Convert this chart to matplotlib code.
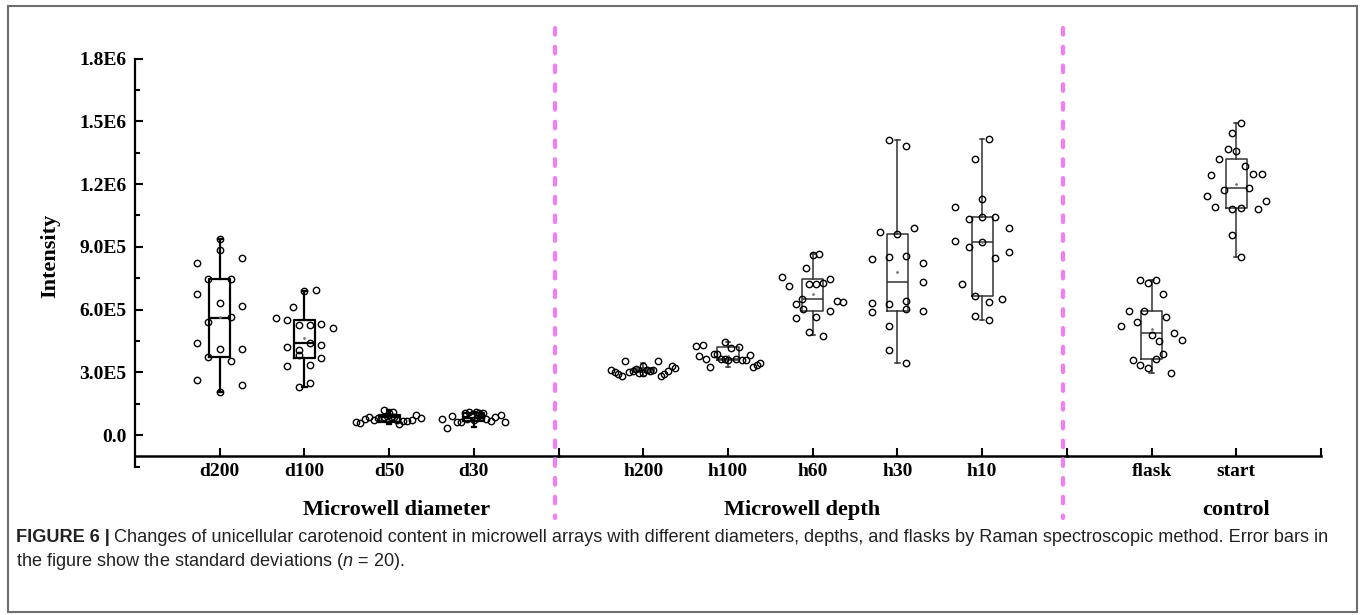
import matplotlib
matplotlib.use("Agg")
import matplotlib.pyplot as plt
from matplotlib.lines import Line2D
from matplotlib.patches import Rectangle
from matplotlib.transforms import blended_transform_factory
import numpy as np

SERIF = "Liberation Serif"
SANS = "Liberation Sans"
MAGENTA = "#F67CF6"
FRAME = "#6E6E6E"
CAPTION_COL = "#222222"

plt.rcParams["font.family"] = [SERIF, "DejaVu Serif"]
plt.rcParams["font.weight"] = "bold"
plt.rcParams["mathtext.fontset"] = "custom"
plt.rcParams["mathtext.it"] = SANS + ":style=italic:weight=normal"
plt.rcParams["mathtext.rm"] = SANS + ":weight=normal"

# ── data (intensity in thousands) ──
y_ticks = [0, 3e5, 6e5, 9e5, 1.2e6, 1.5e6, 1.8e6]
y_tick_labels = ["0.0", "3.0E5", "6.0E5", "9.0E5", "1.2E6", "1.5E6", "1.8E6"]

diam_labels = ["d200", "d100", "d50", "d30"]
depth_labels = ["h200", "h100", "h60", "h30", "h10"]
ctrl_labels = ["flask", "start"]

diam_q1 = [374, 368, 65, 67]
diam_med = [562, 441, 86, 81]
diam_q3 = [748, 549, 97, 105]
diam_lo = [208, 229, 54, 38]
diam_hi = [938, 689, 121, 113]
diam_mean = [566, 463, 84, 82]

depth_q1 = [301, 360, 594, 594, 667]
depth_med = [311, 366, 652, 731, 923]
depth_q3 = [323, 420, 745, 961, 1041]
depth_lo = [285, 325, 479, 344, 549]
depth_hi = [345, 446, 865, 1411, 1417]
depth_mean = [314, 378, 675, 779, 923]

ctrl_q1 = [363, 1086]
ctrl_med = [490, 1181]
ctrl_q3 = [592, 1320]
ctrl_lo = [299, 853]
ctrl_hi = [742, 1490]
ctrl_mean = [506, 1200]

# individual cells: horizontal spread (category units) and intensity
d200_dx = [0, 0, -0.27, 0.266, -0.135, 0.131, -0.27, 0, 0.266, -0.135,
           0.131, -0.27, 0, 0.266, -0.135, 0.131, -0.27, 0.266, 0]
d200_val = [938, 885, 823, 848, 748, 748, 676, 634, 619, 543,
            565, 442, 414, 414, 374, 353, 263, 239, 208]
d100_dx = [0, 0.131, -0.131, -0.33, -0.203, -0.068, 0.063, 0.198, 0.334, -0.203,
           0.063, 0.198, -0.068, -0.068, 0.198, -0.203, 0.063, 0.063, -0.068]
d100_val = [689, 693, 614, 562, 549, 527, 527, 532, 514, 423,
            441, 430, 407, 385, 369, 330, 334, 251, 229]
d50_dx = [-0.393, -0.342, -0.287, -0.237, -0.182, -0.131, -0.059, 0, 0.046, 0.093,
          -0.059, -0.025, 0.017, 0.059, 0.114, 0.165, 0.216, 0.266, 0.317, 0.372]
d50_val = [62, 60, 79, 87, 73, 84, 121, 108, 113, 73,
           86, 92, 86, 89, 54, 70, 67, 73, 98, 84]
d30_dx = [-0.372, -0.313, -0.254, -0.203, -0.148, -0.106, -0.063, -0.021, 0.021, 0.063,
          0.106, 0.042, -0.085, 0, 0.148, 0.203, 0.254, 0.317, 0.372, 0.085]
d30_val = [76, 36, 92, 65, 65, 105, 113, 92, 113, 108,
           105, 81, 76, 73, 76, 67, 87, 97, 62, 86]

h200_dx = [-0.376, -0.337, -0.298, -0.255, -0.216, -0.165, -0.125, -0.086, -0.047, -0.008,
           0, 0.039, 0.078, 0.118, 0.169, 0.204, 0.247, 0.29, 0.337, 0.376]
h200_val = [312, 302, 291, 285, 356, 302, 309, 315, 299, 296,
            331, 312, 307, 312, 356, 285, 291, 309, 331, 320]
h100_dx = [-0.38, -0.294, -0.341, -0.255, -0.216, -0.169, -0.129, -0.039, 0.039, 0.129,
           -0.078, -0.039, 0, 0.09, 0.169, 0.208, 0.255, 0.294, 0.341, 0.38]
h100_val = [428, 430, 377, 366, 325, 387, 390, 444, 418, 420,
            363, 363, 361, 363, 360, 360, 382, 328, 336, 344]
h60_dx = [0, 0.078, -0.082, -0.361, -0.282, -0.039, 0.039, 0.118, 0.2, -0.122,
          -0.2, -0.118, 0.282, 0.361, 0.2, -0.2, 0.039, -0.039, 0.118]
h60_val = [861, 865, 798, 756, 713, 724, 724, 727, 745, 651,
           626, 605, 643, 637, 592, 559, 564, 492, 474]
h30_dx = [-0.102, 0.098, 0, -0.2, 0.2, -0.302, -0.102, 0.098, 0.298, 0.298,
          -0.302, -0.102, 0.098, -0.302, 0.098, 0.298, -0.102, -0.102, 0.098]
h30_val = [1411, 1383, 962, 970, 992, 844, 850, 858, 825, 731,
           631, 629, 643, 589, 605, 592, 524, 407, 344]
h10_dx = [0.078, -0.082, 0, -0.318, -0.161, 0, 0.157, 0.322, -0.318, -0.161,
          0, 0.322, 0.157, -0.239, -0.082, 0.239, 0.078, -0.082, 0.078]
h10_val = [1417, 1320, 1129, 1089, 1032, 1041, 1041, 992, 928, 901,
           923, 876, 847, 724, 667, 653, 635, 570, 549]

flask_dx = [-0.133, -0.043, 0.047, 0.137, -0.267, -0.086, 0.176, -0.176, -0.357, 0,
            0.267, 0.09, 0.357, 0.137, 0.047, -0.224, -0.133, -0.043, 0.224]
flask_val = [743, 726, 743, 676, 592, 592, 564, 543, 521, 478,
             490, 452, 455, 388, 363, 360, 337, 323, 299]
start_dx = [0.055, -0.047, -0.098, 0, -0.2, 0.106, -0.298, 0.2, 0.302, -0.149,
            0.149, -0.349, 0.353, -0.247, -0.047, 0.055, 0.255, -0.047, 0.055]
start_val = [1490, 1443, 1366, 1357, 1320, 1285, 1245, 1248, 1248, 1172,
             1181, 1145, 1121, 1089, 1081, 1087, 1082, 955, 853]

# ── layout (pixel geometry of the original figure) ──
W, H = 1360, 615
X0, X1 = 135, 1321
Y_TOP, Y_BOT = 58.5, 466.7
seg_units = [5, 6, 3]
unit = (X1 - X0) / sum(seg_units)


def fx(px):
    return px / W


def fy(py):
    return 1 - py / H


fig = plt.figure(figsize=(13.6, 6.15), dpi=100)
fig.patch.set_facecolor("white")

axes = []
left = X0
for n in seg_units:
    ax = fig.add_axes([fx(left), fy(Y_BOT), n * unit / W, (Y_BOT - Y_TOP) / H])
    ax.set_xlim(0, n)
    ax.set_ylim(-1.5e5, 1.8e6)
    ax.patch.set_alpha(0)
    for s in ["top", "right"]:
        ax.spines[s].set_visible(False)
    ax.spines["bottom"].set_position(("data", -1.0e5))
    ax.spines["bottom"].set_linewidth(1.8)
    ax.tick_params(axis="x", direction="in", length=6, width=1.5, pad=5,
                   labelsize=14, colors="black")
    axes.append(ax)
    left += n * unit

ax1, ax2, ax3 = axes
ax1.spines["left"].set_linewidth(1.6)
ax1.set_yticks(y_ticks)
ax1.set_yticklabels(y_tick_labels)
ax1.yaxis.set_minor_locator(matplotlib.ticker.MultipleLocator(1.5e5))
ax1.tick_params(axis="y", which="major", direction="in", length=6, width=1.5,
                pad=6, labelsize=14)
ax1.tick_params(axis="y", which="minor", direction="in", length=3.5, width=1.5)
for ax in (ax2, ax3):
    ax.spines["left"].set_visible(False)
    ax.set_yticks([])


def draw_group(ax, labels, dxs, vals, q1, med, q3, lo, hi, mean, lw, color):
    pos = np.arange(1, len(labels) + 1)
    stats = [dict(q1=a * 1e3, med=b * 1e3, q3=c * 1e3, whislo=d * 1e3,
                  whishi=e * 1e3, mean=f * 1e3, fliers=[])
             for a, b, c, d, e, f in zip(q1, med, q3, lo, hi, mean)]
    line = dict(color=color, linewidth=lw)
    ax.bxp(stats, positions=pos, widths=0.25, capwidths=0.05, showmeans=True,
           showfliers=False, boxprops=line, whiskerprops=line, capprops=line,
           medianprops=line,
           meanprops=dict(marker=".", ms=2, mfc="#777777", mec="#777777"),
           manage_ticks=False)
    for p, dx, v in zip(pos, dxs, vals):
        ax.plot(p + np.array(dx), np.array(v) * 1e3, "o", mfc="none", mec="black",
                ms=4.6, mew=1.0, zorder=3)


draw_group(ax1, diam_labels, [d200_dx, d100_dx, d50_dx, d30_dx],
           [d200_val, d100_val, d50_val, d30_val],
           diam_q1, diam_med, diam_q3, diam_lo, diam_hi, diam_mean, 1.6, "black")
draw_group(ax2, depth_labels, [h200_dx, h100_dx, h60_dx, h30_dx, h10_dx],
           [h200_val, h100_val, h60_val, h30_val, h10_val],
           depth_q1, depth_med, depth_q3, depth_lo, depth_hi, depth_mean, 1.1, "#333333")
draw_group(ax3, ctrl_labels, [flask_dx, start_dx], [flask_val, start_val],
           ctrl_q1, ctrl_med, ctrl_q3, ctrl_lo, ctrl_hi, ctrl_mean, 1.1, "#333333")

ax1.set_xticks(np.arange(1, len(diam_labels) + 1))
ax1.set_xticklabels(diam_labels)
ax2.set_xticks(np.arange(0, len(depth_labels) + 1))
ax2.set_xticklabels([""] + depth_labels)
ax3.set_xticks(np.arange(0, len(ctrl_labels) + 2))
ax3.set_xticklabels([""] + ctrl_labels + [""])

# group titles under each segment
for ax, x, txt in [(ax1, 3.09, "Microwell diameter"), (ax2, 2.87, "Microwell depth"),
                   (ax3, 2.0, "control")]:
    tr = blended_transform_factory(ax.transData, fig.transFigure)
    ax.text(x, fy(510), txt, transform=tr, ha="center", va="center", fontsize=16,
            fontweight="bold", clip_on=False)

fig.text(fx(50), fy(256), "Intensity", rotation=90, ha="center", va="center",
         fontsize=16, fontweight="bold")

# magenta separators between segments
for ax in (ax2, ax3):
    xb = ax.get_position().x0
    fig.add_artist(Line2D([xb - 4 / W, xb - 4 / W], [fy(28), fy(518)],
                          transform=fig.transFigure, color=MAGENTA, lw=3.0,
                          linestyle=(0, (1.6, 2.9)), dash_capstyle="round"))

# outer frame
fig.add_artist(Rectangle((fx(8), fy(612)), (1357 - 8) / W, (612 - 6) / H,
                         transform=fig.transFigure, fill=False, edgecolor=FRAME, lw=1.5))

# caption
renderer = fig.canvas.get_renderer()
cap_size = 13.1
t = fig.text(fx(16), fy(537), "FIGURE 6 |", ha="left", va="center", fontsize=cap_size,
             fontweight="bold", family=SANS, color=CAPTION_COL)
bb = t.get_window_extent(renderer)
fig.text(bb.x1 / W + 4 / W, fy(537),
         "Changes of unicellular carotenoid content in microwell arrays with different "
         "diameters, depths, and flasks by Raman spectroscopic method. Error bars in",
         ha="left", va="center", fontsize=cap_size, fontweight="normal", family=SANS,
         color=CAPTION_COL)
fig.text(fx(16), fy(562), r"the figure show the standard deviations ($n$ = 20).",
         ha="left", va="center", fontsize=cap_size, fontweight="normal", family=SANS,
         color=CAPTION_COL)

fig.savefig("out.png", dpi=100, facecolor="white")
plt.close()
